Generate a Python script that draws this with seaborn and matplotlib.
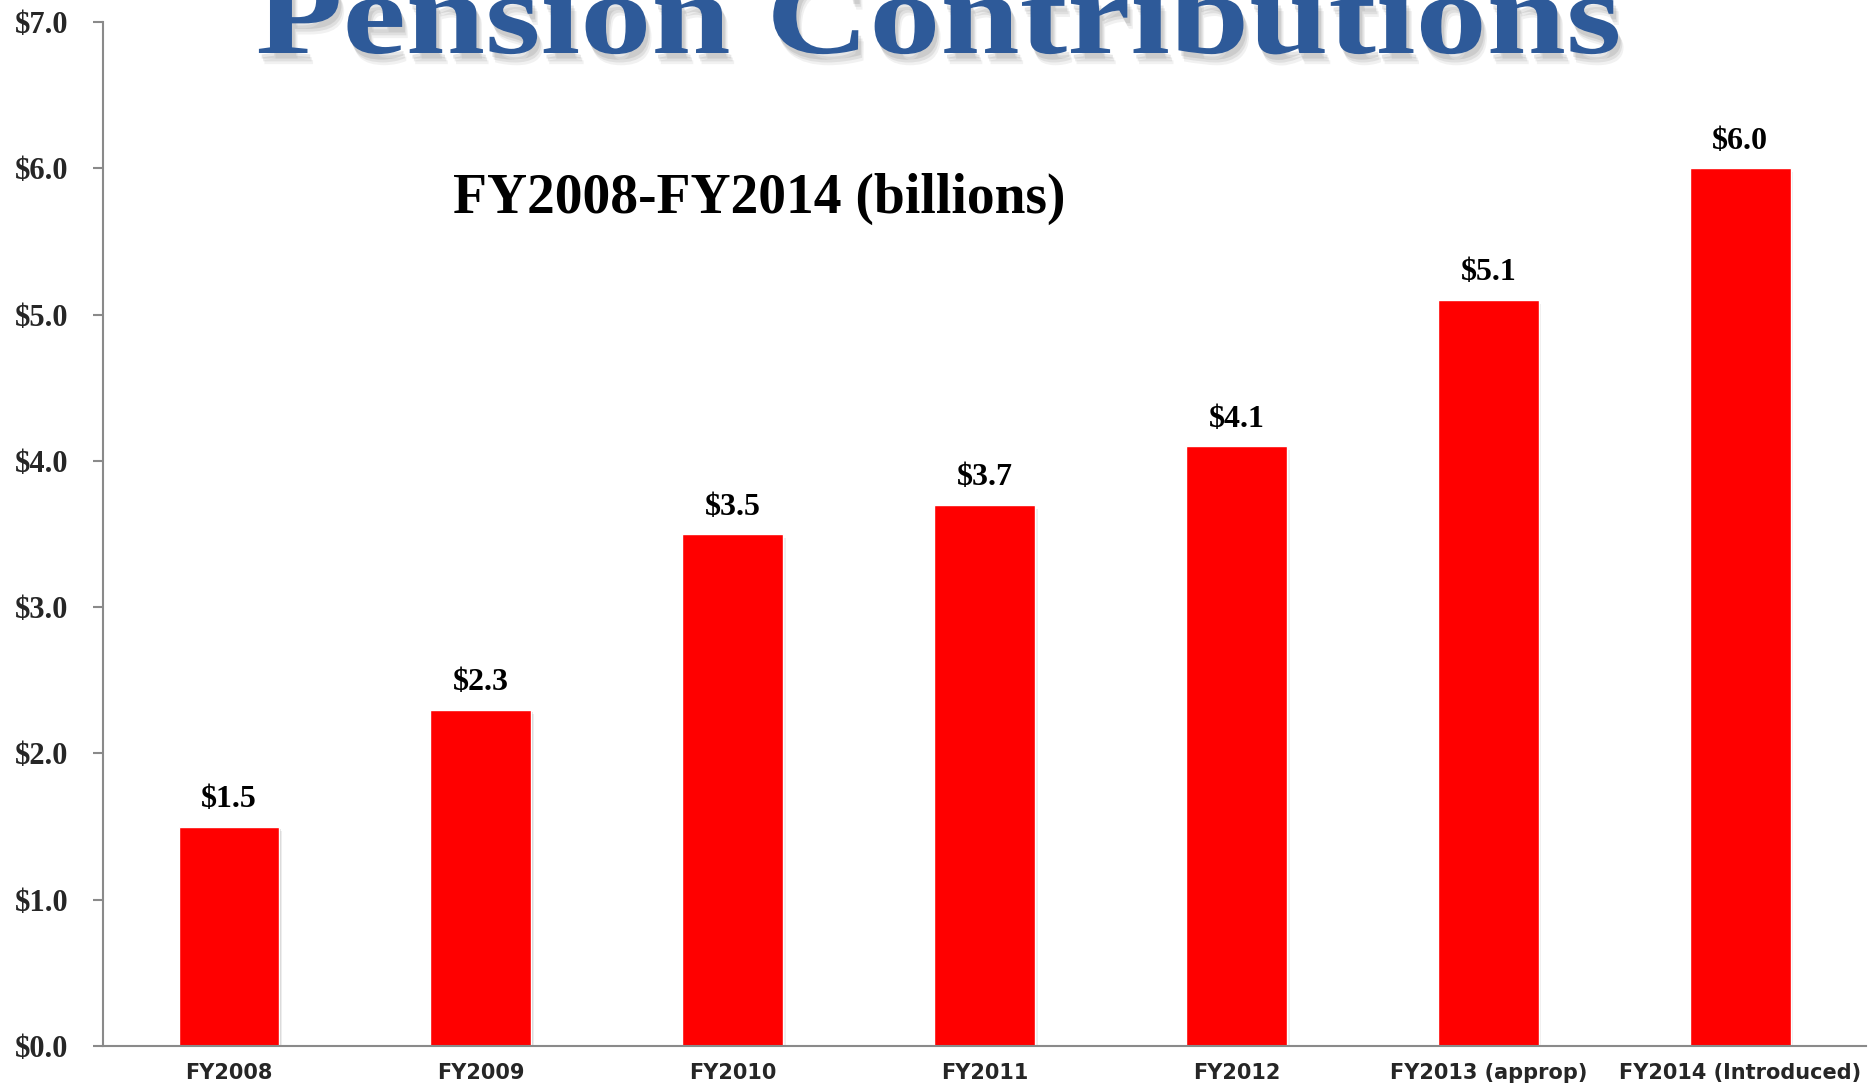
import matplotlib
matplotlib.use('Agg')
import matplotlib.pyplot as plt
import matplotlib.patheffects as pe
from matplotlib.textpath import TextPath
from matplotlib.patches import PathPatch
from matplotlib.font_manager import FontProperties
from matplotlib.transforms import Affine2D
import seaborn as sns
import pandas as pd

categories = ['FY2008', 'FY2009', 'FY2010', 'FY2011', 'FY2012',
              'FY2013 (approp)', 'FY2014 (Introduced)']
values = [1.5, 2.3, 3.5, 3.7, 4.1, 5.1, 6.0]
yticks = [0, 1, 2, 3, 4, 5, 6, 7]

df = pd.DataFrame({'year': categories, 'amount': values})

sns.set_style('white')
plt.rcParams['font.family'] = ['Liberation Serif', 'DejaVu Serif']

W, H = 1873, 1086
fig = plt.figure(figsize=(W / 100, H / 100), dpi=100)
ax = fig.add_axes([0.055, 0.0368, 0.9413, 0.9429])

sns.barplot(data=df, x='year', y='amount', color='#FF0000', width=0.4,
            saturation=1, ax=ax)

# soft shadow on bars
for bar in ax.patches:
    bar.set_path_effects([pe.SimplePatchShadow(offset=(1, -2), shadow_rgbFace='#888888', alpha=0.25),
                          pe.SimplePatchShadow(offset=(2, -3), shadow_rgbFace='#888888', alpha=0.15),
                          pe.Normal()])

ax.bar_label(ax.containers[0], labels=['${:.1f}'.format(v) for v in values],
             padding=9, fontsize=23, fontweight='bold', color='black')

ax.set_ylim(0, 7)
ax.set_xlim(-0.5, len(categories) - 0.5)
ax.set_yticks(yticks)
ax.set_yticklabels(['${:.1f}'.format(v) for v in yticks], fontsize=22, fontweight='bold')

# tick marks at category boundaries, labels under bars
ax.set_xticks([i - 0.5 for i in range(len(categories) + 1)])
ax.set_xticklabels([])
ax.set_xticks(range(len(categories)), minor=True)
ax.set_xticklabels(categories, minor=True, fontsize=15, fontweight='bold',
                   family=['DejaVu Sans'])
ax.tick_params(axis='x', which='minor', length=0, pad=12)
ax.tick_params(axis='x', which='major', length=7, width=1.5, color='#8a8a8a', direction='out')
ax.tick_params(axis='y', length=7, width=1.5, color='#8a8a8a', direction='out', pad=18, left=True)
ax.set_xlabel('')
ax.set_ylabel('')

for s in ['top', 'right']:
    ax.spines[s].set_visible(False)
for s in ['left', 'bottom']:
    ax.spines[s].set_color('#8a8a8a')
    ax.spines[s].set_linewidth(1.5)

# big title, partly running off the top edge like the slide
title = 'Pension Contributions'
fp = FontProperties(family='Liberation Serif', weight='bold')
xh = TextPath((0, 0), 'x', size=1, prop=fp).get_extents().height
size = 53 / xh
tp = TextPath((0, 0), title, size=size, prop=fp)
bb = tp.get_extents()
sx = 1360 / bb.width
tr = Affine2D().scale(sx, 1).translate(258 - bb.x0 * sx, H - 53)
patch = PathPatch(tr.transform_path(tp), facecolor='#2E5A99', edgecolor='none',
                  transform=None)
patch.set_path_effects([pe.SimplePatchShadow(offset=(2, -4), shadow_rgbFace='#777777', alpha=0.18),
                        pe.SimplePatchShadow(offset=(3, -6), shadow_rgbFace='#777777', alpha=0.14),
                        pe.SimplePatchShadow(offset=(4, -8), shadow_rgbFace='#777777', alpha=0.10),
                        pe.Normal()])
fig.patches.append(patch)

fig.text(0.4055, 0.804, 'FY2008-FY2014 (billions)', ha='center', va='baseline',
         fontsize=40, fontweight='bold', color='black')

fig.savefig('out.png', dpi=100)
